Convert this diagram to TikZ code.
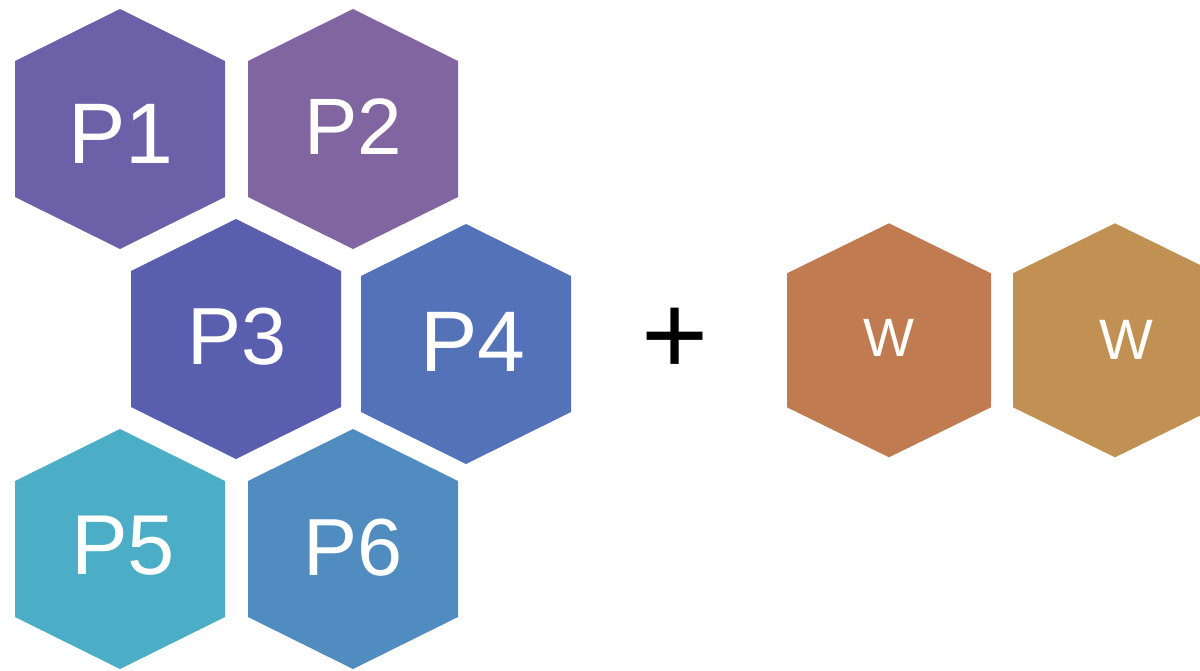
\documentclass[tikz,border=0pt]{standalone}
\usepackage{fontspec}
\setmainfont{Liberation Sans}
\definecolor{cP1}{RGB}{108,96,168}
\definecolor{cP2}{RGB}{128,101,160}
\definecolor{cP3}{RGB}{90,94,174}
\definecolor{cP4}{RGB}{84,114,184}
\definecolor{cP5}{RGB}{75,174,198}
\definecolor{cP6}{RGB}{80,140,192}
\definecolor{cW1}{RGB}{192,124,80}
\definecolor{cW2}{RGB}{192,145,82}
% pointy-top hexagon: #1 name, (#2,#3) centre, #4 half width, #5 half height,
% #6 half length of the vertical sides, #7 colour
\newcommand{\hexcell}[7]{%
  \coordinate (#1) at (#2,#3);
  \fill[#7] ($(#1)+(0,#5)$) -- ($(#1)+(#4,#6)$) -- ($(#1)+(#4,-#6)$)
    -- ($(#1)+(0,-#5)$) -- ($(#1)+(-#4,-#6)$) -- ($(#1)+(-#4,#6)$) -- cycle;}
\usetikzlibrary{calc}
\tikzset{
  hexlabel/.style={text=white, anchor=base, inner sep=0pt},
}
\begin{document}
\begin{tikzpicture}[x=1pt,y=-1pt]
  \useasboundingbox (0,0) rectangle (1200,670);
  \clip (0,0) rectangle (1200,670);
  % prime cells
  \hexcell{h1}{120}{129}{105}{120}{68}{cP1}
  \hexcell{h2}{353}{129}{105}{120}{68}{cP2}
  \hexcell{h3}{236}{339}{105}{120}{68}{cP3}
  \hexcell{h4}{466}{344}{105}{120}{68}{cP4}
  \hexcell{h5}{120}{549}{105}{120}{68}{cP5}
  \hexcell{h6}{353}{549}{105}{120}{68}{cP6}
  % added cells
  \hexcell{w1}{889}{340.3}{102}{117}{67}{cW1}
  \hexcell{w2}{1115}{340.3}{102}{117}{67}{cW2}
  % labels
  \node[hexlabel, font=\fontsize{86}{90}\selectfont] (t1) at (121,163) {P1};
  \node[hexlabel, font=\fontsize{80}{90}\selectfont] (t2) at (353,154) {P2};
  \node[hexlabel, font=\fontsize{81}{90}\selectfont] (t3) at (236.7,364) {P3};
  \node[hexlabel, font=\fontsize{86}{90}\selectfont] (t4) at (473,371) {P4};
  \node[hexlabel, font=\fontsize{85}{90}\selectfont] (t5) at (123,574) {P5};
  \node[hexlabel, font=\fontsize{81}{90}\selectfont] (t6) at (353,575) {P6};
  \node[hexlabel, font=\fontsize{54}{60}\selectfont] (tw1) at (889,356.7) {W};
  \node[hexlabel, font=\fontsize{57}{60}\selectfont] (tw2) at (1126,359.3) {W};
  % plus sign
  \node[inner sep=0pt, font=\fontsize{115}{120}\selectfont] (plus) at (675,341.5) {+};
\end{tikzpicture}
\end{document}
